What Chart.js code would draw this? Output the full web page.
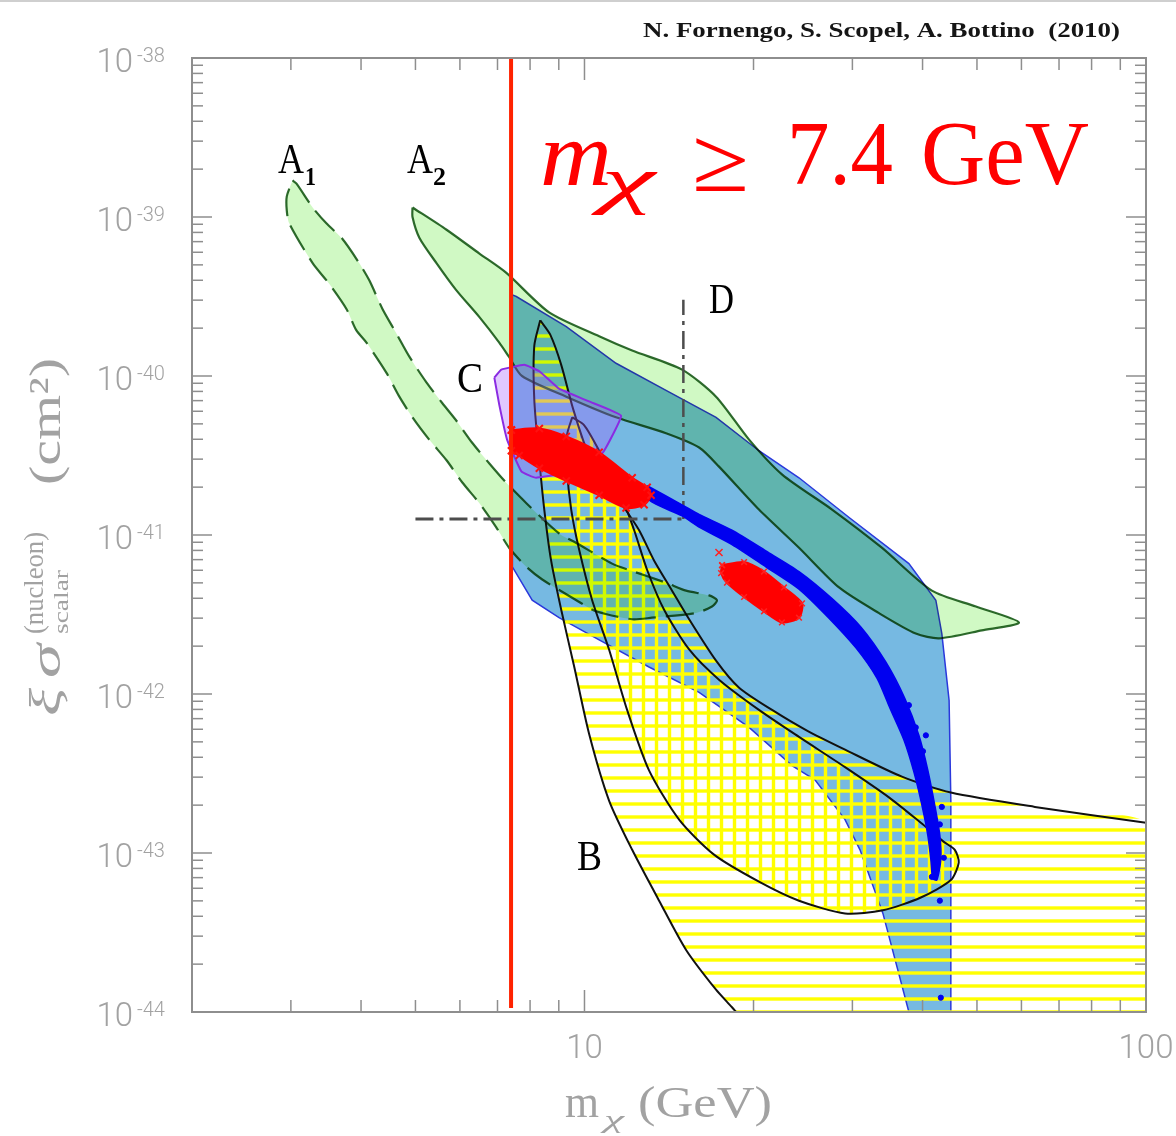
<!DOCTYPE html>
<html>
<head>
<meta charset="utf-8">
<script src="https://cdn.jsdelivr.net/npm/chart.js@4.4.1/dist/chart.umd.min.js"></script>
<style>
  html, body { margin: 0; padding: 0; background: #fff; }
  canvas { display: block; }
</style>
</head>
<body>
<canvas id="plot" width="1176" height="1136"></canvas>
<script>
// masses in GeV, cross sections given as log10(sigma / cm^2)
const regionA1 = [[3.02,-38.77],[3.07,-38.79],[3.28,-38.94],[3.47,-39.04],[3.71,-39.14],[3.97,-39.29],[4.14,-39.40],[4.37,-39.58],[4.62,-39.73],[4.88,-39.88],[5.23,-40.04],[5.58,-40.17],[5.91,-40.28],[6.31,-40.42],[6.77,-40.55],[7.25,-40.67],[7.88,-40.80],[9.01,-40.99],[9.67,-41.05],[11.2,-41.18],[12.0,-41.22],[13.97,-41.30],[15.17,-41.35],[16.67,-41.38],[17.22,-41.41],
  [16.87,-41.45],[15.8,-41.49],[13.19,-41.52],[12.16,-41.53],[10.49,-41.48],[9.67,-41.41],[8.41,-41.28],[7.88,-41.20],[7.34,-41.08],[6.96,-40.95],[6.50,-40.80],[6.06,-40.67],[5.68,-40.53],[5.29,-40.40],[4.94,-40.26],[4.68,-40.13],[4.44,-39.98],[4.09,-39.79],[3.92,-39.71],[3.77,-39.58],[3.51,-39.42],[3.28,-39.29],[2.98,-39.04],[2.95,-38.96],[2.95,-38.87],[3.02,-38.77]];

const regionA2 = [[4.94,-38.94],[5.68,-39.08],[6.50,-39.23],[7.25,-39.35],[8.65,-39.60],[10.62,-39.75],[12.16,-39.84],[14.92,-39.96],[17.15,-40.13],[19.64,-40.40],[22.5,-40.62],[27.6,-40.84],[33.85,-41.08],[41.56,-41.35],[49.78,-41.45],[59.4,-41.55],
  [51.0,-41.60],[42.8,-41.65],[38.9,-41.62],[33.4,-41.49],[28.4,-41.33],[24.1,-41.08],[20.45,-40.84],[17.36,-40.57],[16.0,-40.45],[13.97,-40.36],[11.38,-40.26],[9.28,-40.13],[7.74,-40.00],[7.34,-39.88],[7.05,-39.79],[6.50,-39.63],[5.91,-39.46],[5.45,-39.29],[5.08,-39.13],[4.94,-39.0],[4.94,-38.94]];

const blueRegion = [[7.44,-39.49],[7.56,-39.50],[9.28,-39.69],[11.38,-39.92],[13.97,-40.09],[17.15,-40.26],[20.45,-40.47],[24.1,-40.64],[29.6,-40.89],[37.82,-41.18],[42.24,-41.41],[43.29,-41.62],[44.6,-42.04],[44.92,-42.67],[44.92,-44],[37.82,-44],[34.0,-43.38],[30.95,-42.98],[29.11,-42.79],[25.73,-42.54],[23.42,-42.45],[19.64,-42.21],[16.0,-41.99],[13.03,-41.83],[10.62,-41.66],[9.01,-41.52],[8.07,-41.41],[7.44,-41.20],[7.44,-39.49]];

const curveBLeft = [[8.34,-39.65],[8.14,-39.81],[8.14,-40.15],[8.31,-40.53],[8.48,-40.84],[8.72,-41.16],[9.09,-41.47],[9.59,-41.83],[10.19,-42.25],[11.06,-42.67],[12.16,-42.98],[13.58,-43.30],[15.17,-43.61],[17.15,-43.86],[18.31,-43.97],[18.62,-44]];
const curveBUpper = [[8.34,-39.65],[8.69,-39.74],[9.09,-39.93],[9.55,-40.21],[10.11,-40.47],[10.84,-40.65],[11.67,-40.81],[12.51,-40.97],[13.30,-41.16],[14.32,-41.35],[15.36,-41.53],[17.15,-41.79],[18.85,-41.96],[21.58,-42.10],[24.9,-42.23],[29.11,-42.35],[36.75,-42.52],[44.92,-42.62],[63.4,-42.71],[100,-42.81]];
const cornerB = [[100,-44]];

const ovalB = [[9.51,-40.26],[9.31,-40.37],[9.31,-40.59],[9.47,-40.84],[9.78,-41.09],[10.32,-41.41],[11.06,-41.72],[11.91,-42.10],[13.03,-42.48],[14.74,-42.79],[17.01,-43.01],[20.45,-43.18],[24.1,-43.30],[29.11,-43.38],[34.0,-43.36],[39.72,-43.28],[44.92,-43.17],[46.4,-43.06],[45.66,-42.98],[43.65,-42.93],[39.72,-42.81],[34.85,-42.65],[29.11,-42.46],[24.1,-42.27],[20.45,-42.10],[17.36,-41.91],[15.36,-41.72],[13.86,-41.47],[12.93,-41.22],[12.26,-40.97],[11.53,-40.72],[10.62,-40.47],[9.99,-40.31],[9.51,-40.26]];

const regionC = [[6.91,-40.01],[7.11,-39.96],[7.81,-39.93],[8.31,-39.97],[9.01,-40.08],[10.19,-40.16],[11.62,-40.25],[10.84,-40.47],[10.19,-40.58],[8.20,-40.64],[7.72,-40.60],[7.28,-40.40],[7.05,-40.18],[6.91,-40.01]];

const limitDH = [[5.0,-40.90],[15.0,-40.90]];
const limitDV = [[15.0,-40.90],[15.0,-39.52]];

const redBlob = [[7.41,-40.34],[8.31,-40.33],[9.28,-40.38],[10.62,-40.48],[12.16,-40.64],[12.93,-40.70],[13.14,-40.75],[12.77,-40.81],[11.86,-40.83],[10.62,-40.75],[9.28,-40.66],[8.31,-40.58],[7.65,-40.50],[7.41,-40.47],[7.41,-40.34]];
const redCluster = [[17.58,-41.19],[19.24,-41.17],[20.88,-41.23],[22.66,-41.33],[24.40,-41.43],[24.1,-41.52],[22.47,-41.55],[20.88,-41.48],[19.24,-41.39],[17.94,-41.30],[17.51,-41.24],[17.58,-41.19]];
const redStray = [[17.36,-41.11]];

const blueBandTop = [[12.93,-40.69],[14.92,-40.81],[16.0,-40.87],[18.31,-40.97],[21.04,-41.10],[24.1,-41.23],[27.6,-41.40],[31.08,-41.58],[34.42,-41.80],[37.22,-42.03],[39.4,-42.26],[40.88,-42.48],[42.06,-42.70],[42.94,-42.89],[43.11,-43.04],[42.42,-43.17]];
const blueBandBottom = [[41.72,-43.16],[41.38,-43.04],[40.88,-42.89],[39.9,-42.70],[38.6,-42.49],[37.06,-42.29],[35.0,-42.09],[33.18,-41.90],[30.44,-41.71],[27.2,-41.52],[24.1,-41.34],[21.04,-41.20],[18.31,-41.06],[16.0,-40.95],[14.92,-40.88],[13.03,-40.78]];
const blueStray = [[40.07,-42.36],[43.29,-42.71],[42.94,-42.82],[43.65,-43.03],[42.94,-43.30],[43.11,-43.91],[41.56,-43.15],[42.24,-43.03],[37.82,-42.07],[38.9,-42.21],[40.55,-42.26]];

const massCut = 7.4;
const cutSpan = [-43.975, -38];

const yExponents = [-38, -39, -40, -41, -42, -43, -44];
const xLabelValues = [10, 100];

const serif = '"Liberation Serif", "DejaVu Serif", serif';
const sans = 'Roboto, "Liberation Sans", sans-serif';
const grey = '#a2a2a2';

const ctx = document.getElementById('plot').getContext('2d');

function pts(list) {
  return list.map(([m, e]) => ({ x: m, y: Math.pow(10, e) }));
}

function hatch(dir) {
  const t = document.createElement('canvas');
  t.width = 13; t.height = 13;
  const g = t.getContext('2d');
  g.fillStyle = '#ffff00';
  if (dir === 'h') g.fillRect(0, 9.3, 13, 3.4);
  else g.fillRect(4.8, 0, 3.4, 13);
  return ctx.createPattern(t, 'repeat');
}

function shape(data, extra) {
  return Object.assign({
    data: pts(data), fill: 'shape', tension: 0.25, pointRadius: 0,
    borderWidth: 2, clip: 0
  }, extra);
}

function curve(data, extra) {
  return Object.assign({
    data: pts(data), fill: false, tension: 0.25, pointRadius: 0,
    borderWidth: 2, clip: 0
  }, extra);
}

const greenFill = 'rgb(208,249,196)';
const greenLine = '#2f6a2f';

const datasets = [
  shape(blueRegion, { order: 100, tension: 0, backgroundColor: '#76b9e2', borderColor: '#2a38dc', borderWidth: 1.5 }),
  shape([...curveBLeft, ...cornerB, ...curveBUpper.slice().reverse()], { order: 95, tension: 0.15, backgroundColor: hatch('h'), borderColor: 'rgba(0,0,0,0)' }),
  shape(ovalB, { order: 94, backgroundColor: hatch('v'), borderColor: '#111' }),
  curve(curveBLeft, { order: 93, borderColor: '#111' }),
  curve(curveBUpper, { order: 93, borderColor: '#111' }),
  shape(regionA2, { order: 80, multiply: true, backgroundColor: greenFill, borderColor: greenLine, borderWidth: 2.2 }),
  shape(regionA1, { order: 79, multiply: true, backgroundColor: greenFill, borderColor: greenLine, borderWidth: 2.2, borderDash: [28, 10] }),
  shape(regionC, { order: 70, tension: 0.1, backgroundColor: 'rgba(165,95,255,0.34)', borderColor: '#8a2be2', borderWidth: 2 }),
  curve(limitDH, { order: 60, tension: 0, borderColor: '#4d4d4d', borderWidth: 3, borderDash: [18, 6, 4, 6] }),
  curve(limitDV, { order: 60, tension: 0, borderColor: '#4d4d4d', borderWidth: 2.5, borderDash: [18, 6, 4, 6] }),
  shape([...blueBandTop, ...blueBandBottom, blueBandTop[0]], { order: 50, backgroundColor: '#0000f0', borderColor: '#0000f0', borderWidth: 1.5 }),
  { data: pts(blueStray), showLine: false, order: 49, pointRadius: 2.6, pointBackgroundColor: '#0000f0', pointBorderColor: '#0000f0', clip: 0 },
  shape(redBlob, { order: 40, backgroundColor: '#ff0000', borderColor: '#ff0000', borderWidth: 2, pointRadius: 5, pointStyle: 'crossRot', pointBorderColor: '#ff1010', pointBorderWidth: 2 }),
  shape(redCluster, { order: 39, backgroundColor: '#ff0000', borderColor: '#ff0000', borderWidth: 2, pointRadius: 4, pointStyle: 'crossRot', pointBorderColor: '#ff2020', pointBorderWidth: 1.5 }),
  { data: pts(redStray), showLine: false, order: 38, pointRadius: 5, pointStyle: 'crossRot', pointBorderColor: '#ff2020', pointBorderWidth: 1.5, clip: 0 },
  curve(cutSpan.map(e => [massCut, e]), { order: 10, tension: 0, borderColor: '#ff2200', borderWidth: 4 })
];

// green regions are multiplied onto what is under them (teal where they cross the blue one)
function setBlend(chart, meta) {
  const ds = meta ? chart.data.datasets[meta.index] : null;
  chart.ctx.globalCompositeOperation = ds && ds.multiply ? 'multiply' : 'source-over';
}
const blendPlugin = {
  id: 'blend',
  beforeDatasetsDraw(chart) {
    const metas = chart.getSortedVisibleDatasetMetas();
    setBlend(chart, metas[metas.length - 1]);
  },
  afterDatasetDraw(chart, args) {
    const metas = chart.getSortedVisibleDatasetMetas();
    const i = metas.indexOf(args.meta);
    setBlend(chart, i > 0 ? metas[i - 1] : null);
  },
  afterDatasetsDraw(chart) { chart.ctx.globalCompositeOperation = 'source-over'; }
};

function fit(c, txt, x, y, w, font) {
  c.font = font;
  const tw = c.measureText(txt).width;
  c.save(); c.translate(x, y); c.scale(w / tw, 1); c.fillText(txt, 0, 0); c.restore();
}

const chromePlugin = {
  id: 'chrome',
  beforeDraw(chart) {
    const c = chart.ctx;
    c.save();
    c.fillStyle = '#fff'; c.fillRect(0, 0, chart.width, chart.height);
    c.fillStyle = '#cfcfcf'; c.fillRect(0, 0, chart.width, 2);
    c.restore();
  },
  afterDraw(chart) {
    const c = chart.ctx, a = chart.chartArea, xs = chart.scales.x, ys = chart.scales.y;
    c.save();
    c.globalCompositeOperation = 'source-over';
    const seg = (x1, y1, x2, y2) => { c.beginPath(); c.moveTo(x1, y1); c.lineTo(x2, y2); c.stroke(); };

    // frame + inward ticks on all sides
    c.strokeStyle = '#8e8e8e';
    c.lineWidth = 2;
    c.strokeRect(a.left, a.top, a.right - a.left, a.bottom - a.top);
    c.lineWidth = 1.5;
    for (let d = 0; d < 2; d++) {
      for (let k = 1; k <= 9; k++) {
        const v = k * Math.pow(10, d);
        if (v <= 2) continue;
        const px = xs.getPixelForValue(v), len = k === 1 ? 22 : 12;
        seg(px, a.bottom, px, a.bottom - len);
        seg(px, a.top, px, a.top + len);
      }
    }
    for (let e = -44; e < -38; e++) {
      for (let k = 1; k <= 9; k++) {
        const py = ys.getPixelForValue(k * Math.pow(10, e)), len = k === 1 ? 20 : 11;
        seg(a.left, py, a.left + len, py);
        seg(a.right, py, a.right - len, py);
      }
    }

    // tick labels
    c.fillStyle = grey;
    yExponents.forEach(e => {
      const py = ys.getPixelForValue(Math.pow(10, e));
      c.textAlign = 'right'; c.font = '300 33px ' + sans;
      c.fillText('10', 133, py + 14);
      c.textAlign = 'left'; c.font = '300 20px ' + sans;
      c.fillText('-' + (-e), 137, py + 4);
    });
    c.textAlign = 'center'; c.font = '300 33px ' + sans;
    xLabelValues.forEach(v => c.fillText(String(v), xs.getPixelForValue(v), 1058));

    // axis titles
    c.textAlign = 'left';
    fit(c, 'm', 565, 1117, 34, '46px ' + serif);
    fit(c, 'χ', 604, 1128, 20, 'italic 26px ' + serif);
    fit(c, '(GeV)', 638, 1117, 134, '44px ' + serif);

    c.save();
    c.translate(60, 718);
    c.rotate(-Math.PI / 2);
    fit(c, 'ξ', 2, 0, 28, 'italic 44px ' + serif);
    fit(c, 'σ', 40, 0, 34, 'italic 44px ' + serif);
    fit(c, '(nucleon)', 84, -17, 102, '28px ' + serif);
    fit(c, 'scalar', 84, 8, 64, '22px ' + serif);
    fit(c, '(cm²)', 233, 0, 127, '44px ' + serif);
    c.restore();

    // credit line
    c.fillStyle = '#151515';
    fit(c, 'N. Fornengo, S. Scopel, A. Bottino  (2010)', 643, 37, 477, 'bold 20px ' + serif);

    // region labels
    c.fillStyle = '#000';
    fit(c, 'A', 278, 173, 26, '43px ' + serif);
    fit(c, '1', 305, 185, 11, 'bold 26px ' + serif);
    fit(c, 'A', 407, 173, 26, '43px ' + serif);
    fit(c, '2', 433, 185, 13, 'bold 26px ' + serif);
    fit(c, 'C', 457, 392, 26, '43px ' + serif);
    fit(c, 'D', 709, 313, 25, '43px ' + serif);
    fit(c, 'B', 577, 870, 25, '43px ' + serif);

    // mass bound annotation
    c.fillStyle = '#ff0000';
    fit(c, 'm', 540, 185, 72, 'italic 90px ' + serif);
    fit(c, 'χ', 601, 201, 54, 'italic 64px ' + serif);
    fit(c, '≥', 692, 191, 57, '92px ' + serif);
    fit(c, '7.4', 787, 184, 106, '90px ' + serif);
    fit(c, 'GeV', 921, 184, 168, '90px ' + serif);
    c.restore();
  }
};

new Chart(ctx, {
  type: 'line',
  data: { datasets },
  options: {
    responsive: false,
    animation: false,
    events: [],
    layout: { padding: { left: 192, top: 58, right: 30, bottom: 124 } },
    scales: {
      x: { type: 'logarithmic', min: 2, max: 100, display: false },
      y: { type: 'logarithmic', min: 1e-44, max: 1e-38, display: false }
    },
    plugins: { legend: { display: false }, tooltip: { enabled: false } }
  },
  plugins: [blendPlugin, chromePlugin]
});
</script>
</body>
</html>
